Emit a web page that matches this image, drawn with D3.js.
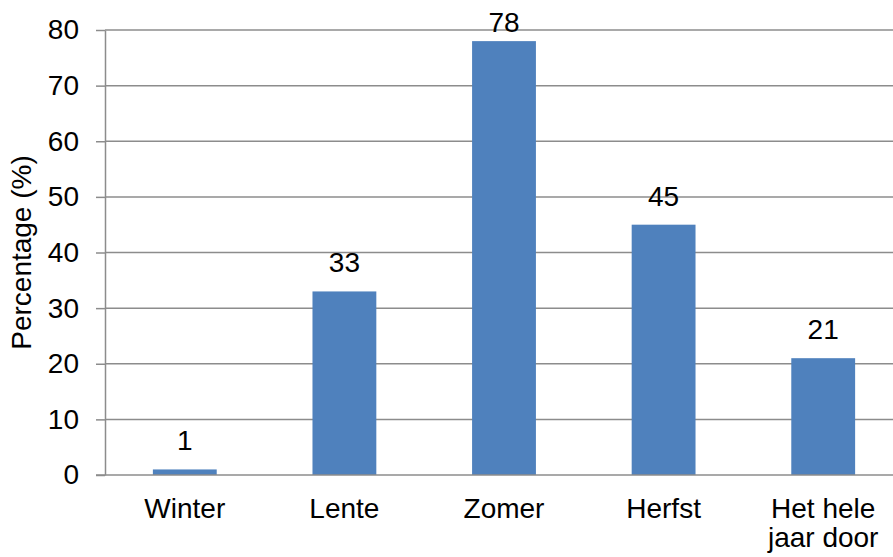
<!DOCTYPE html>
<html>
<head>
<meta charset="utf-8">
<script src="https://cdn.jsdelivr.net/npm/d3@7"></script>
<style>
  html, body { margin: 0; padding: 0; background: #ffffff; }
  svg { display: block; font-family: "Liberation Sans", Arial, sans-serif; }
</style>
</head>
<body>
<svg id="chart" width="893" height="557"></svg>
<script>
// ---- Data ----
const categories = ["Winter", "Lente", "Zomer", "Herfst", "Het hele jaar door"];
const categoryLines = [["Winter"], ["Lente"], ["Zomer"], ["Herfst"], ["Het hele", "jaar door"]];
const values = [1, 33, 78, 45, 21];
const yTicks = [0, 10, 20, 30, 40, 50, 60, 70, 80];
const yLabel = "Percentage (%)";

// ---- Layout ----
const W = 893, H = 557;
const plot = { left: 105, right: 903, top: 30, bottom: 475 };
const fontSize = 28;
const gridColor = "#8c8c8c";
const barColor = "#4F81BD";

const svg = d3.select("#chart");

const x = d3.scaleBand().domain(categories).range([plot.left, plot.right]).padding(0);
const y = d3.scaleLinear().domain([0, 80]).range([plot.bottom, plot.top]);
const barW = x.bandwidth() * 0.4;

// gridlines
svg.append("g").selectAll("line").data(yTicks.filter(d => d !== 0)).join("line")
  .attr("x1", plot.left).attr("x2", W)
  .attr("y1", d => y(d)).attr("y2", d => y(d))
  .attr("stroke", gridColor).attr("stroke-width", 1.5);

// y axis
const yAxis = d3.axisLeft(y).tickValues(yTicks).tickSizeInner(9).tickSizeOuter(0).tickPadding(17);
const gy = svg.append("g").attr("transform", `translate(${plot.left},0)`).call(yAxis);
gy.select(".domain").attr("stroke", gridColor).attr("stroke-width", 1.5);
gy.selectAll(".tick line").attr("stroke", gridColor).attr("stroke-width", 1.5);
gy.selectAll(".tick text").attr("font-size", fontSize).attr("fill", "#000")
  .attr("font-family", "Liberation Sans, Arial, sans-serif");

// bars
svg.append("g").selectAll("rect").data(values).join("rect")
  .attr("x", (d, i) => x(categories[i]) + (x.bandwidth() - barW) / 2)
  .attr("width", barW)
  .attr("y", d => y(d))
  .attr("height", d => y(0) - y(d))
  .attr("fill", barColor);

// x axis baseline
svg.append("line")
  .attr("x1", plot.left - 9).attr("x2", W)
  .attr("y1", y(0)).attr("y2", y(0))
  .attr("stroke", gridColor).attr("stroke-width", 1.5);

// value labels
svg.append("g").selectAll("text").data(values).join("text")
  .attr("x", (d, i) => x(categories[i]) + x.bandwidth() / 2)
  .attr("y", d => Math.max(y(d) - 19, y(80) + 2))
  .attr("text-anchor", "middle")
  .attr("font-size", fontSize)
  .attr("fill", "#000")
  .text(d => d);

// category labels
const cl = svg.append("g").selectAll("text").data(categoryLines).join("text")
  .attr("x", (d, i) => x(categories[i]) + x.bandwidth() / 2)
  .attr("y", 518)
  .attr("text-anchor", "middle")
  .attr("font-size", fontSize)
  .attr("fill", "#000");
cl.selectAll("tspan").data(d => d).join("tspan")
  .attr("x", function() { return d3.select(this.parentNode).attr("x"); })
  .attr("dy", (d, i) => i === 0 ? 0 : 29)
  .text(d => d);

// y label
svg.append("text")
  .attr("transform", `translate(31, ${(plot.top + plot.bottom) / 2}) rotate(-90)`)
  .attr("text-anchor", "middle")
  .attr("font-size", fontSize)
  .attr("fill", "#000")
  .text(yLabel);
</script>
</body>
</html>
